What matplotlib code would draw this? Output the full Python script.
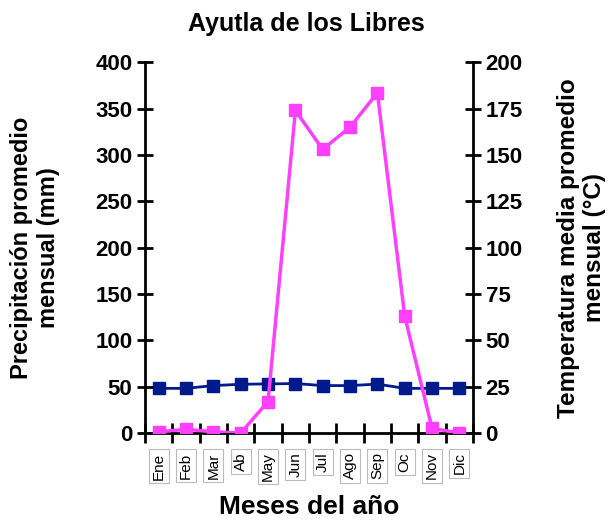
import matplotlib.pyplot as plt
import numpy as np

plt.rcParams['font.family'] = ['Liberation Sans', 'DejaVu Sans']

# Datos
meses = ["Ene", "Feb", "Mar", "Ab", "May", "Jun", "Jul", "Ago", "Sep", "Oc", "Nov", "Dic"]
precipitacion = [1.4, 4, 1.4, 0, 34, 348, 306, 330, 367, 126, 5, 0]
temperatura = [24.1, 24.1, 25.6, 26.3, 26.5, 26.7, 25.6, 25.6, 26.4, 24.1, 24.1, 24.1]

x = np.arange(len(meses))

fig = plt.figure(figsize=(6.12, 5.23), dpi=100)
ax = fig.add_axes([0.237, 0.172, 0.536, 0.709])
ax2 = ax.twinx()

ax.plot(x, precipitacion, color="#FF40FF", lw=2.5, marker="s", ms=8, zorder=3)
ax2.plot(x, temperatura, color="#001A8C", lw=2, marker="s", ms=8)

ax.set_zorder(ax2.get_zorder() + 1)
ax.patch.set_visible(False)

ax.set_xlim(-0.5, 11.5)
ax.set_ylim(0, 400)
ax2.set_ylim(0, 200)
ax.set_yticks(np.arange(0, 401, 50))
ax2.set_yticks(np.arange(0, 201, 25))

for a in (ax, ax2):
    a.spines["top"].set_visible(False)
    a.spines["left"].set_linewidth(2)
    a.spines["right"].set_linewidth(2)
    a.spines["bottom"].set_linewidth(2)
ax2.spines["bottom"].set_visible(False)
ax.spines["right"].set_visible(False)
ax2.spines["left"].set_visible(False)

ax.tick_params(axis="y", direction="inout", length=12, width=2, labelsize=16, pad=3)
ax2.tick_params(axis="y", direction="inout", length=12, width=2, labelsize=16, pad=3)
for lab in ax.get_yticklabels() + ax2.get_yticklabels():
    lab.set_fontweight("bold")

# ticks del eje x en los limites de categoria
ax.set_xticks(np.arange(-0.5, 12, 1), minor=True)
ax.tick_params(axis="x", which="minor", direction="inout", length=14, width=2)
ax.set_xticks(x)
ax.set_xticklabels(meses, rotation=90, fontsize=11, va="top")
ax.tick_params(axis="x", which="major", length=0, pad=14)
for lab in ax.get_xticklabels():
    lab.set_bbox(dict(boxstyle="square,pad=0.2", fc="white", ec="#BBBBBB", lw=0.8))

ax.set_ylabel("Precipitación promedio\nmensual (mm)", fontsize=17, fontweight="bold",
              va="center", ha="center")
ax2.set_ylabel("Temperatura media promedio\nmensual (°C)", fontsize=17.5, fontweight="bold",
               rotation=90, va="center", ha="center")
ax.yaxis.set_label_coords(-0.335, 0.5)
ax2.yaxis.set_label_coords(1.33, 0.5)
ax.set_xlabel("Meses del año", fontsize=19, fontweight="bold", labelpad=10)
fig.text(0.5, 0.955, "Ayutla de los Libres", ha="center", va="center",
         fontsize=18, fontweight="bold")

fig.savefig("out.png", dpi=100)
